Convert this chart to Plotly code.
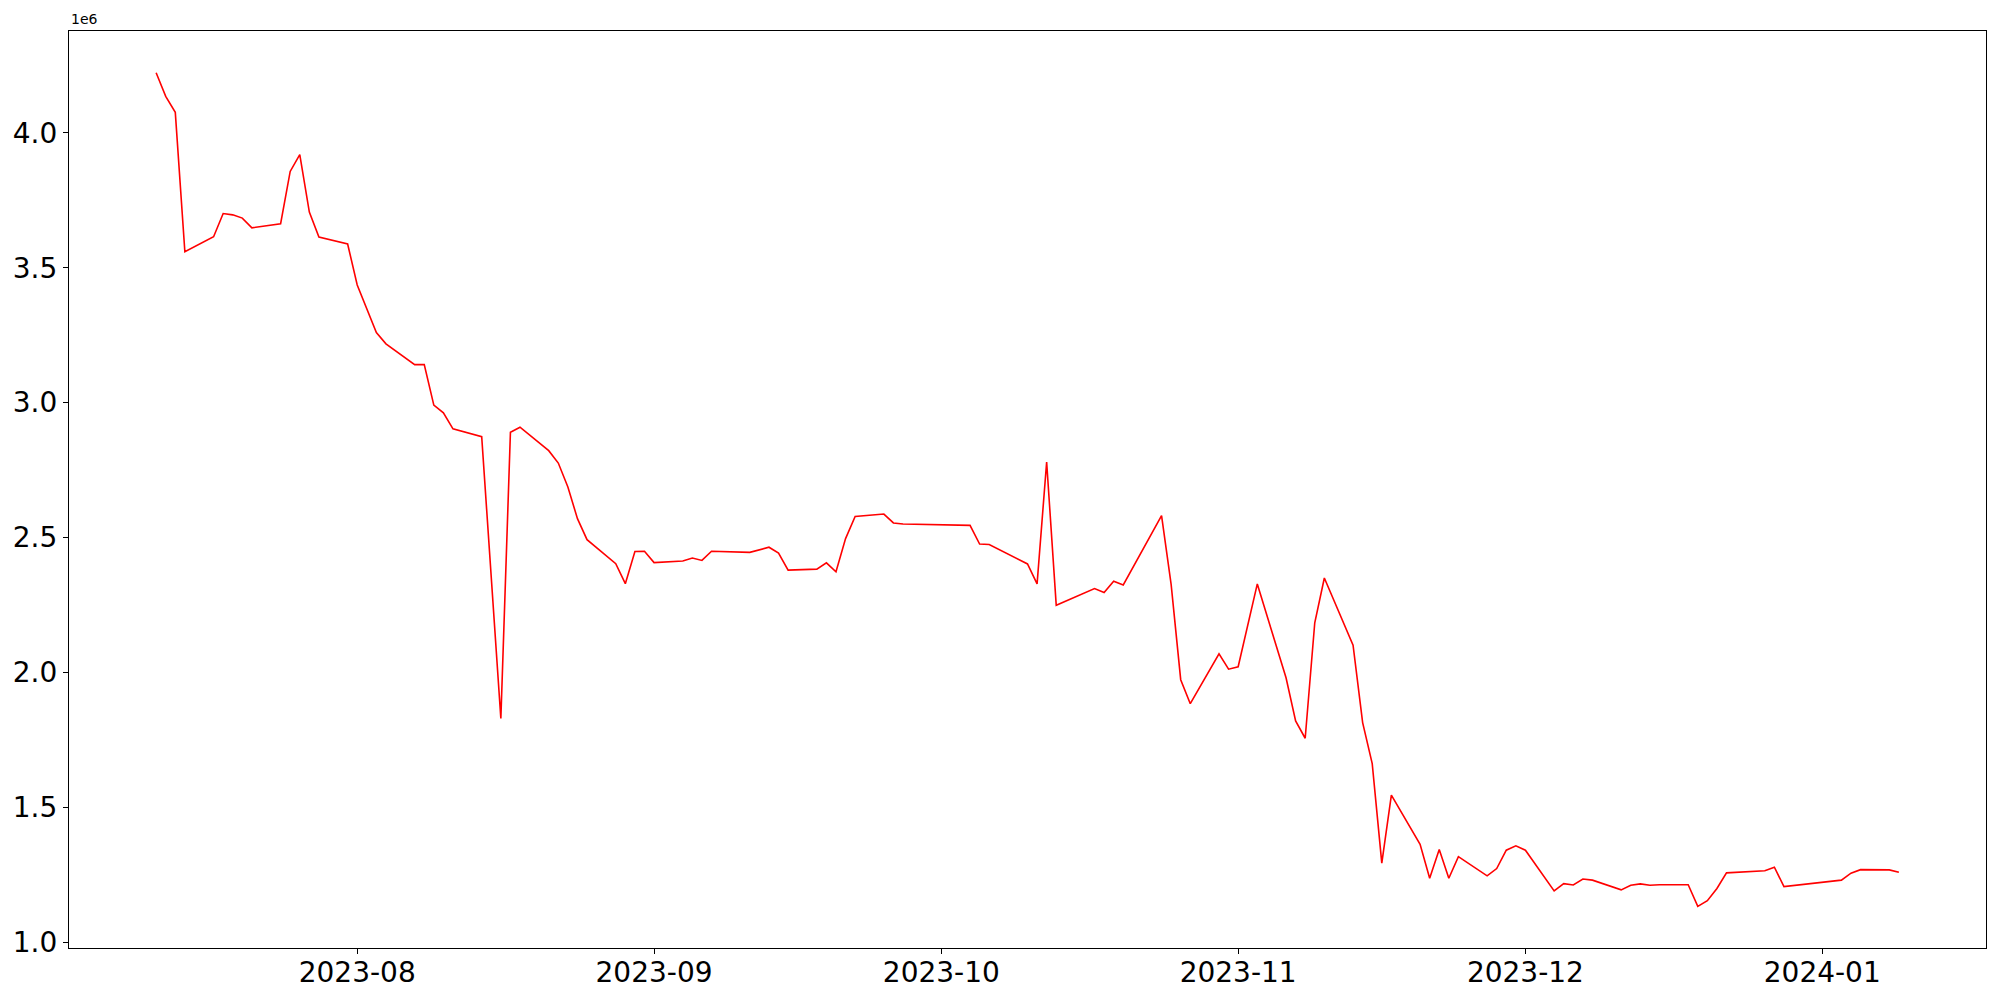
import pandas as pd
import plotly.graph_objects as go

# ---- data (values in raw units; axis shows them in 1e6) ----
dates = [
    "2023-07-11", "2023-07-12", "2023-07-13", "2023-07-14", "2023-07-17", "2023-07-18",
    "2023-07-19", "2023-07-20", "2023-07-21", "2023-07-24", "2023-07-25", "2023-07-26",
    "2023-07-27", "2023-07-28", "2023-07-31", "2023-08-01", "2023-08-03", "2023-08-04",
    "2023-08-07", "2023-08-08", "2023-08-09", "2023-08-10", "2023-08-11", "2023-08-14",
    "2023-08-16", "2023-08-17", "2023-08-18", "2023-08-21", "2023-08-22", "2023-08-23",
    "2023-08-24", "2023-08-25", "2023-08-28", "2023-08-29", "2023-08-30", "2023-08-31",
    "2023-09-01", "2023-09-04", "2023-09-05", "2023-09-06", "2023-09-07", "2023-09-08",
    "2023-09-11", "2023-09-13", "2023-09-14", "2023-09-15", "2023-09-18", "2023-09-19",
    "2023-09-20", "2023-09-21", "2023-09-22", "2023-09-25", "2023-09-26", "2023-09-27",
    "2023-10-04", "2023-10-05", "2023-10-06", "2023-10-10", "2023-10-11", "2023-10-12",
    "2023-10-13", "2023-10-17", "2023-10-18", "2023-10-19", "2023-10-20", "2023-10-24",
    "2023-10-25", "2023-10-26", "2023-10-27", "2023-10-30", "2023-10-31", "2023-11-01",
    "2023-11-03", "2023-11-06", "2023-11-07", "2023-11-08", "2023-11-09", "2023-11-10",
    "2023-11-13", "2023-11-14", "2023-11-15", "2023-11-16", "2023-11-17", "2023-11-20",
    "2023-11-21", "2023-11-22", "2023-11-23", "2023-11-24", "2023-11-27", "2023-11-28",
    "2023-11-29", "2023-11-30", "2023-12-01", "2023-12-04", "2023-12-05", "2023-12-06",
    "2023-12-07", "2023-12-08", "2023-12-11", "2023-12-12", "2023-12-13", "2023-12-14",
    "2023-12-15", "2023-12-18", "2023-12-19", "2023-12-20", "2023-12-21", "2023-12-22",
    "2023-12-26", "2023-12-27", "2023-12-28", "2024-01-03", "2024-01-04", "2024-01-05",
    "2024-01-08", "2024-01-09",
]

values = [
    4223000, 4135000, 4076000, 3559000, 3615000, 3701000,
    3696000, 3684000, 3648000, 3663000, 3857000, 3919000,
    3706000, 3614000, 3588000, 3436000, 3260000, 3218000,
    3141000, 3141000, 2991000, 2962000, 2903000, 2874000,
    1829000, 2890000, 2909000, 2822000, 2776000, 2687000,
    2570000, 2492000, 2403000, 2329000, 2448000, 2449000,
    2407000, 2413000, 2424000, 2415000, 2449000, 2448000,
    2445000, 2464000, 2442000, 2379000, 2383000, 2406000,
    2373000, 2496000, 2578000, 2587000, 2554000, 2550000,
    2545000, 2476000, 2474000, 2402000, 2328000, 2780000,
    2249000, 2311000, 2296000, 2338000, 2324000, 2581000,
    2326000, 1973000, 1884000, 2069000, 2012000, 2021000,
    2328000, 1980000, 1820000, 1756000, 2184000, 2350000,
    2101000, 1814000, 1662000, 1293000, 1545000, 1363000,
    1237000, 1344000, 1237000, 1317000, 1246000, 1273000,
    1341000, 1357000, 1341000, 1190000, 1217000, 1212000,
    1234000, 1230000, 1194000, 1211000, 1216000, 1211000,
    1213000, 1213000, 1133000, 1154000, 1199000, 1257000,
    1265000, 1278000, 1206000, 1230000, 1256000, 1269000,
    1268000, 1259000,
]

x_tick_vals = ["2023-08-01", "2023-09-01", "2023-10-01", "2023-11-01", "2023-12-01", "2024-01-01"]
x_tick_text = ["2023-08", "2023-09", "2023-10", "2023-11", "2023-12", "2024-01"]
y_tick_vals = [1000000, 1500000, 2000000, 2500000, 3000000, 3500000, 4000000]
y_tick_text = ["1.0", "1.5", "2.0", "2.5", "3.0", "3.5", "4.0"]
offset_text = "1e6"

# ---- autoscale like matplotlib (5% margins) ----
dt = pd.to_datetime(dates)
span = dt.max() - dt.min()
x_range = [dt.min() - 0.05 * span, dt.max() + 0.05 * span]
vmin, vmax = min(values), max(values)
vspan = vmax - vmin
y_range = [vmin - 0.05 * vspan, vmax + 0.05 * vspan]

fig = go.Figure()
fig.add_trace(go.Scatter(
    x=dt, y=values, mode="lines",
    line=dict(color="red", width=1.6),
    showlegend=False,
))

tick_font = dict(family="DejaVu Sans", size=28, color="black")
axis_common = dict(
    showgrid=False, zeroline=False, showline=True, mirror=True,
    linecolor="black", linewidth=1.2, ticks="outside", ticklen=5,
    tickwidth=1.2, tickcolor="black", tickfont=tick_font, automargin=False,
)
# page body has an 8px default margin, so the figure is sized to fit 2000x1000
fig.update_layout(
    width=1992, height=992,
    margin=dict(l=61, r=14, t=23, b=52, autoexpand=False),
    paper_bgcolor="white", plot_bgcolor="white",
    xaxis=dict(range=x_range, tickmode="array", tickvals=x_tick_vals,
               ticktext=x_tick_text, ticklabelstandoff=-6, **axis_common),
    yaxis=dict(range=y_range, tickmode="array", tickvals=y_tick_vals,
               ticktext=y_tick_text, **axis_common),
    annotations=[dict(
        text=offset_text, xref="paper", yref="paper", x=0, y=1,
        xanchor="left", yanchor="bottom", yshift=2, showarrow=False,
        font=dict(family="DejaVu Sans", size=14, color="black"),
    )],
)

fig.write_html("out.html")
